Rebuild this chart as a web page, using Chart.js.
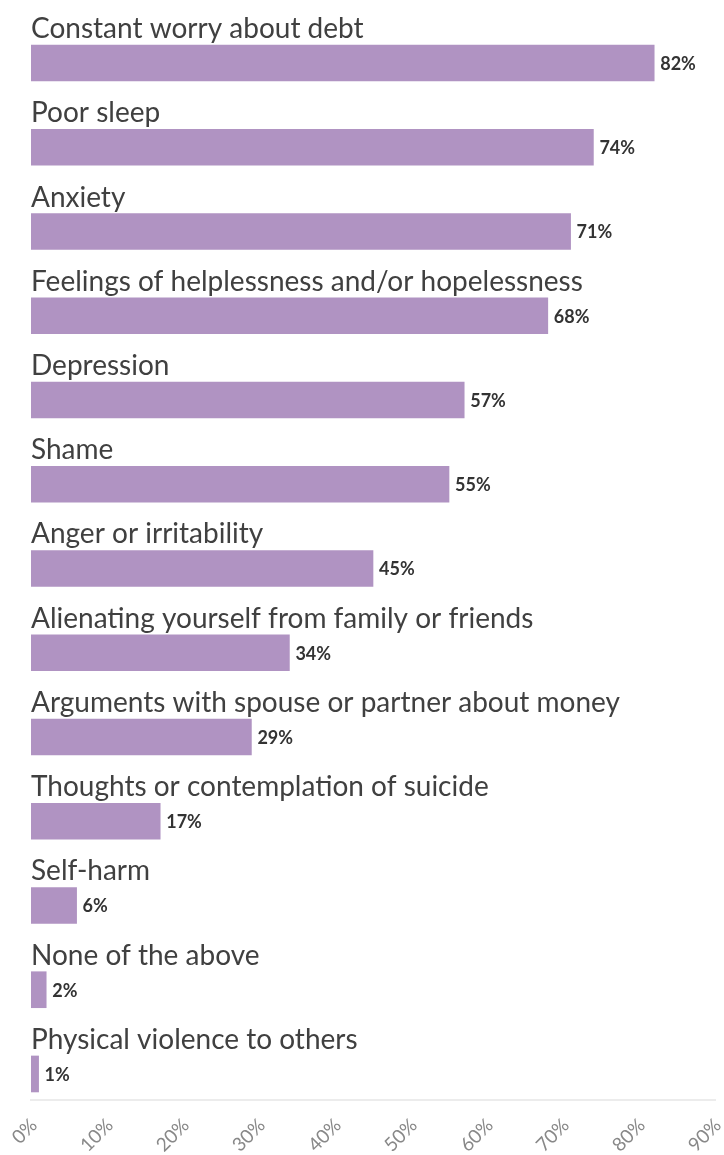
<!DOCTYPE html>
<html>
<head>
<meta charset="utf-8">
<script src="https://cdn.jsdelivr.net/npm/chart.js@4"></script>
<style>
  body { margin: 0; background: #fff; }
  canvas { display: block; }
</style>
</head>
<body>
<canvas id="grafica" width="724" height="1155"></canvas>
<script>
const SINTOMAS = [
  "Constant worry about debt",
  "Poor sleep",
  "Anxiety",
  "Feelings of helplessness and/or hopelessness",
  "Depression",
  "Shame",
  "Anger or irritability",
  "Alienating yourself from family or friends",
  "Arguments with spouse or partner about money",
  "Thoughts or contemplation of suicide",
  "Self-harm",
  "None of the above",
  "Physical violence to others"
];
const PORCENTAJES = [82, 74, 71, 68, 57, 55, 45, 34, 29, 17, 6, 2, 1];
const TICKS_X = [0, 10, 20, 30, 40, 50, 60, 70, 80, 90];

const COLOR_BARRA = "#b093c2";
const FUENTE = "Lato, 'Open Sans', sans-serif";

// etiquetas: nombre encima de cada barra y el porcentaje a la derecha
const etiquetas = {
  id: "etiquetas",
  afterDatasetsDraw(chart) {
    const ctx = chart.ctx;
    const meta = chart.getDatasetMeta(0);
    const left = chart.chartArea.left;
    ctx.save();
    meta.data.forEach((bar, i) => {
      const arriba = bar.y - bar.height / 2;
      ctx.fillStyle = "#404040";
      ctx.font = "28px " + FUENTE;
      ctx.textAlign = "left";
      ctx.textBaseline = "alphabetic";
      ctx.fillText(SINTOMAS[i], left, arriba - 7);

      ctx.fillStyle = "#333";
      ctx.font = "bold 18px " + FUENTE;
      ctx.textBaseline = "middle";
      ctx.fillText(PORCENTAJES[i] + "%", bar.x + 6, bar.y + 1);
    });
    ctx.restore();
  }
};

window.onload = () => {
  const ctx = document.getElementById("grafica").getContext("2d");
  new Chart(ctx, {
    type: "bar",
    data: {
      datasets: [{
        data: PORCENTAJES.map((v, i) => ({ x: v, y: i })),
        backgroundColor: COLOR_BARRA,
        barThickness: 36
      }]
    },
    options: {
      indexAxis: "y",
      responsive: false,
      animation: false,
      layout: { padding: { left: 31, right: 9, top: 0, bottom: 0 } },
      scales: {
        y: {
          type: "linear",
          display: false,
          offset: false,
          reverse: true,
          min: -0.748,
          max: 12.309
        },
        x: {
          type: "linear",
          min: 0,
          max: 90,
          afterBuildTicks: (scale) => {
            scale.ticks = TICKS_X.map(v => ({ value: v }));
          },
          afterFit: (scale) => {
            scale.height = 55;
            scale.paddingLeft = 0;
            scale.paddingRight = 0;
          },
          grid: { display: false },
          border: { display: true, color: "#ececec", width: 2 },
          ticks: {
            minRotation: 45,
            maxRotation: 45,
            padding: 6,
            labelOffset: 3,
            color: "#888",
            font: { family: FUENTE, size: 19 },
            callback: (v) => v + "%"
          }
        }
      },
      plugins: {
        legend: { display: false },
        tooltip: { enabled: false }
      }
    },
    plugins: [etiquetas]
  });
};
</script>
</body>
</html>
